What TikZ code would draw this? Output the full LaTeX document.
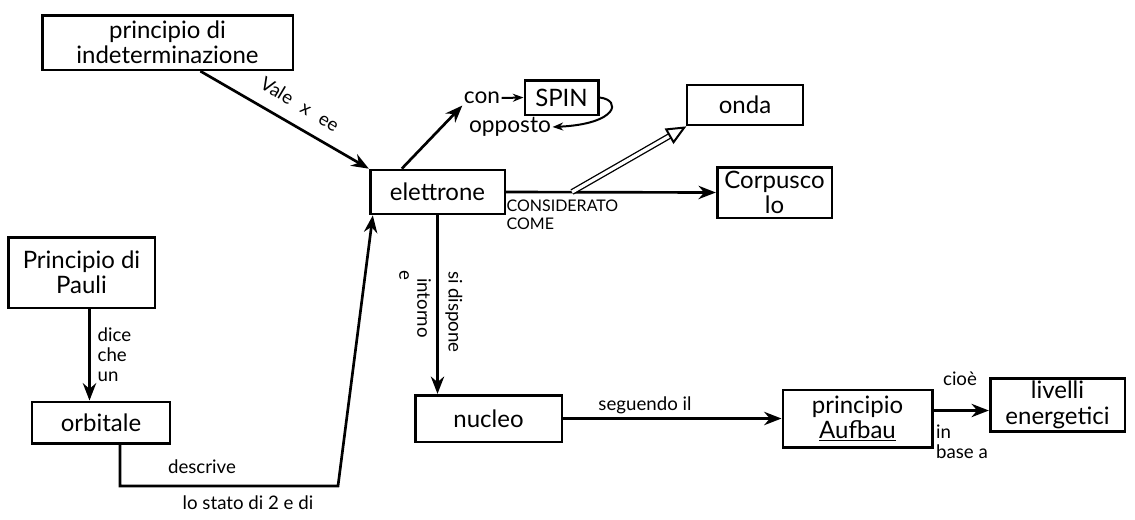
\documentclass[tikz,border=0pt]{standalone}
\usepackage{fontspec}
\setmainfont{Lato}
\usetikzlibrary{arrows.meta,calc}
\begin{document}
\begin{tikzpicture}[x=0.75pt,y=-0.75pt,
  concept/.style={draw, line width=2pt, inner sep=2pt, align=center,
    font=\fontsize{18}{19}\selectfont},
  link/.style={line width=2pt, -{Stealth[length=13pt,width=10pt]}},
  lbl/.style={font=\fontsize{14}{15}\selectfont, inner sep=1pt, align=center},
  plain/.style={font=\fontsize{17}{18}\selectfont, inner sep=1pt},
]
\useasboundingbox (0,0) rectangle (1135,519);

% concepts
\node[concept, minimum width=188pt, minimum height=41pt] (indet) at (167.5,42.5)
  {principio di\\indeterminazione};
\node[concept, minimum width=101pt, minimum height=33pt] (ele) at (437.5,192) {elettrone};
\node[concept, minimum width=55pt, minimum height=26pt] (spin) at (561.5,97.5) {SPIN};
\node[plain] (con) at (482,98) {con};
\node[plain] (opp) at (510,127) {opposto};
\node[concept, minimum width=87pt, minimum height=30pt] (onda) at (745,105) {onda};
\node[concept, minimum width=86pt, minimum height=38pt] (corp) at (774.5,192.5) {Corpusco\\lo};
\node[concept, minimum width=110pt, minimum height=53pt] (pauli) at (81.5,272.5)
  {Principio di\\Pauli};
\node[concept, minimum width=103.5pt, minimum height=31pt] (orb) at (101,422.5) {orbitale};
\node[concept, minimum width=110pt, minimum height=35pt] (nucleo) at (488.5,418.5) {nucleo};
\node[concept, minimum width=112pt, minimum height=43pt] (aufbau) at (857.5,418.5)
  {principio\\\underline{Aufbau}};
\node[concept, minimum width=101pt, minimum height=33pt] (livelli) at (1057.5,405)
  {livelli\\energetici};

% connectors
\coordinate (indetout) at ($(indet.south west)!0.63!(indet.south east)$);
\draw[link] (indetout) -- (ele.north west);
\node[lbl, rotate=-31] (vale) at (300,104) {Vale\hspace{9pt}x\hspace{9pt}ee};

\draw[link] ($(ele.north west)!0.24!(ele.north east)$) -- (con.south west);
\draw[line width=1.5pt, -{Stealth[length=8pt,width=6pt]}] (con.east) -- (spin.west);
\draw[line width=1.5pt, -{Stealth[length=8pt,width=6pt]}]
  (spin.east) .. controls (622,100) and (618,124) .. (opp.east);

\draw[link] (ele.east) -- (corp.west);
\coordinate (fork) at (572,192);
\draw[line width=1pt, double, double distance=2.5pt,
  -{Triangle[open, length=15pt, width=13pt, line width=1.5pt]}] (fork) -- (onda.200);
\node[lbl, anchor=north west, align=left, font=\fontsize{12}{14}\selectfont]
  (cc) at (505,198) {CONSIDERATO\\COME};

\draw[link] (ele.south) -- (ele.south |- nucleo.north);
\node[lbl, rotate=-90] (sid) at (454,312) {si dispone};
\node[lbl, rotate=-90] (into) at (424,308) {intorno};
\node[lbl, rotate=-90] (ee) at (404,275) {e};

\coordinate (pout) at ($(pauli.south)+(8,0)$);
\coordinate (pin) at (pout |- orb.north);
\draw[link] (pout) -- (pin);
\node[lbl, anchor=north west, align=left] (dice) at (96,326) {dice\\che\\un};

\coordinate (oout) at ($(orb.south)+(19,0)$);
\coordinate (bend) at (338,486);
\coordinate (ein) at ($(ele.south west)+(4,0)$);
\draw[link] (oout) |- (bend) -- (ein);
\node[lbl] (descr) at (202,467) {descrive};
\node[lbl] (stato) at (248,503) {lo stato di 2 e di};

\draw[link] (nucleo.east) -- (aufbau.west);
\node[lbl] (seg) at (645,405) {seguendo il};

\coordinate (aout) at ($(aufbau.east)+(0,-8)$);
\coordinate (lin) at (livelli.west |- aout);
\draw[link] (aout) -- (lin);
\node[lbl] (cioe) at (960,379) {cioè};
\node[lbl, align=left] (base) at (962,442) {in\\base a};
\end{tikzpicture}
\end{document}
